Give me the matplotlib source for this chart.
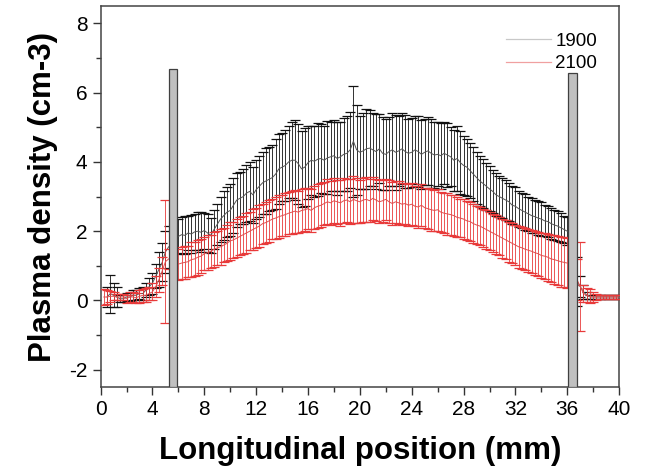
import numpy as np
import matplotlib
matplotlib.use("Agg")
import matplotlib.pyplot as plt
from matplotlib.ticker import MultipleLocator

plt.rcParams['font.family'] = ['Liberation Sans', 'DejaVu Sans']
plt.rcParams['axes.unicode_minus'] = False

# ---------------- data ----------------
series_labels = ["1900", "2100"]

# left region (before first electrode)
b_left_start = 0.5
b_left_mean = [0.10, 0.20, 0.15, 0.10, 0.05, 0.05, 0.10, 0.10, 0.15, 0.15,
               0.20, 0.20, 0.30, 0.40, 0.50, 0.70, 0.90, 1.10, 1.40, 1.55]
b_left_err = [0.30, 0.55, 0.35, 0.30, 0.10, 0.10, 0.12, 0.12, 0.15, 0.15,
              0.15, 0.20, 0.20, 0.25, 0.30, 0.35, 0.50, 0.55, 0.62, 0.60]
r_left_start = 0.25
r_left_mean = [0.10, 0.10, 0.12, 0.12, 0.10, 0.10, 0.10, 0.05, 0.10, 0.10,
               0.08, 0.12, 0.15, 0.15, 0.20, 0.25, 0.40, 0.60, 0.85, 1.12, 1.20]
r_left_err = [0.22, 0.20, 0.15, 0.12, 0.10, 0.10, 0.10, 0.12, 0.15, 0.15,
              0.15, 0.18, 0.18, 0.20, 0.20, 0.25, 0.30, 0.35, 0.40, 1.78, 0.30]

# main region (between electrodes)
main_start = 6.0
b_main_mean = [1.85, 1.90, 1.88, 1.95, 1.92, 1.98, 2.00, 1.97, 2.02, 1.95, 1.88, 2.05,
               2.20, 2.35, 2.45, 2.55, 2.60, 2.75, 2.90, 2.95, 3.00, 3.10, 3.15, 3.05,
               3.20, 3.30, 3.40, 3.45, 3.50, 3.55, 3.65, 3.80, 3.85, 3.90, 4.00, 4.05,
               4.05, 3.95, 3.80, 3.85, 3.98, 4.05, 4.02, 4.08, 4.10, 4.05, 4.12, 4.15,
               4.18, 4.10, 4.15, 4.22, 4.25, 4.35, 4.60, 4.35, 4.28, 4.32, 4.38, 4.40,
               4.35, 4.30, 4.38, 4.25, 4.22, 4.30, 4.35, 4.28, 4.32, 4.38, 4.30, 4.25,
               4.28, 4.35, 4.30, 4.22, 4.28, 4.32, 4.25, 4.20, 4.22, 4.18, 4.25, 4.20,
               4.15, 4.05, 4.10, 3.98, 3.90, 3.85, 3.75, 3.65, 3.55, 3.45, 3.38, 3.30,
               3.22, 3.15, 3.05, 3.00, 2.95, 2.90, 2.85, 2.75, 2.72, 2.65, 2.60, 2.55,
               2.50, 2.45, 2.42, 2.38, 2.35, 2.30, 2.28, 2.22, 2.18, 2.15, 2.10, 2.05,
               2.00]
b_main_err = [0.50, 0.52, 0.55, 0.50, 0.55, 0.52, 0.55, 0.58, 0.52, 0.55, 0.50, 0.55,
              0.60, 0.65, 0.70, 0.72, 0.75, 0.80, 0.78, 0.75, 0.80, 0.82, 0.85, 0.80,
              0.85, 0.88, 0.90, 0.95, 0.92, 0.95, 1.00, 1.00, 0.98, 1.02, 1.05, 1.10,
              1.15, 1.15, 1.10, 1.12, 1.05, 1.00, 1.02, 1.05, 1.00, 0.98, 1.05, 1.00,
              1.02, 1.05, 1.00, 1.05, 1.08, 1.10, 1.60, 1.30, 1.05, 1.10, 1.15, 1.10,
              1.05, 1.08, 1.00, 1.05, 1.02, 1.00, 1.05, 1.08, 1.00, 1.02, 1.05, 1.00,
              1.00, 0.98, 1.02, 1.00, 0.95, 0.98, 1.00, 0.95, 0.92, 0.95, 0.90, 0.92,
              0.85, 0.88, 0.95, 0.90, 0.85, 0.82, 0.80, 0.78, 0.75, 0.72, 0.70, 0.68,
              0.65, 0.62, 0.62, 0.60, 0.58, 0.58, 0.55, 0.55, 0.55, 0.52, 0.50, 0.52,
              0.50, 0.50, 0.48, 0.48, 0.50, 0.45, 0.45, 0.45, 0.42, 0.42, 0.42, 0.40,
              0.40]
r_main_mean = [1.05, 1.08, 1.10, 1.12, 1.18, 1.20, 1.25, 1.28, 1.35, 1.38, 1.42, 1.48,
               1.52, 1.55, 1.60, 1.65, 1.72, 1.75, 1.80, 1.85, 1.90, 1.95, 2.00, 2.05,
               2.10, 2.15, 2.22, 2.25, 2.30, 2.35, 2.38, 2.42, 2.45, 2.48, 2.52, 2.55,
               2.58, 2.55, 2.60, 2.62, 2.65, 2.60, 2.68, 2.72, 2.75, 2.80, 2.85, 2.82,
               2.88, 2.85, 2.82, 2.88, 2.90, 2.85, 2.92, 2.88, 2.85, 2.90, 2.92, 2.88,
               2.95, 2.90, 2.85, 2.88, 2.92, 2.85, 2.80, 2.85, 2.82, 2.78, 2.80, 2.75,
               2.78, 2.72, 2.70, 2.75, 2.68, 2.65, 2.62, 2.60, 2.62, 2.55, 2.52, 2.50,
               2.48, 2.45, 2.40, 2.38, 2.35, 2.30, 2.28, 2.22, 2.18, 2.15, 2.10, 2.05,
               2.00, 1.95, 1.90, 1.85, 1.80, 1.75, 1.70, 1.65, 1.60, 1.55, 1.52, 1.48,
               1.45, 1.42, 1.38, 1.35, 1.30, 1.28, 1.25, 1.20, 1.18, 1.15, 1.12, 1.10,
               1.08]
r_main_err = [0.45, 0.45, 0.48, 0.45, 0.50, 0.48, 0.50, 0.50, 0.48, 0.50, 0.48, 0.50,
              0.50, 0.52, 0.50, 0.52, 0.55, 0.52, 0.55, 0.55, 0.55, 0.58, 0.55, 0.58,
              0.58, 0.60, 0.58, 0.60, 0.60, 0.58, 0.60, 0.62, 0.60, 0.62, 0.60, 0.62,
              0.62, 0.60, 0.62, 0.62, 0.60, 0.62, 0.62, 0.64, 0.64, 0.62, 0.65, 0.64,
              0.65, 0.64, 0.66, 0.65, 0.62, 0.65, 0.68, 0.65, 0.62, 0.64, 0.65, 0.62,
              0.62, 0.60, 0.62, 0.60, 0.60, 0.62, 0.62, 0.60, 0.62, 0.60, 0.58, 0.60,
              0.60, 0.58, 0.60, 0.60, 0.58, 0.60, 0.60, 0.58, 0.60, 0.58, 0.58, 0.60,
              0.58, 0.60, 0.58, 0.56, 0.58, 0.56, 0.55, 0.56, 0.55, 0.54, 0.55, 0.55,
              0.55, 0.54, 0.56, 0.55, 0.56, 0.56, 0.58, 0.58, 0.58, 0.60, 0.60, 0.60,
              0.62, 0.62, 0.64, 0.64, 0.66, 0.66, 0.68, 0.68, 0.70, 0.70, 0.72, 0.72,
              0.72]

# right region (after second electrode)
right_start = 36.75
b_right_mean = [0.55, 0.40, 0.25, 0.15, 0.10, 0.10, 0.10, 0.10, 0.10, 0.10, 0.10, 0.10, 0.10, 0.10]
b_right_err = [0.70, 0.30, 0.20, 0.10, 0.06, 0.05, 0.05, 0.05, 0.05, 0.05, 0.05, 0.05, 0.05, 0.06]
r_right_mean = [0.60, 0.40, 0.20, 0.15, 0.12, 0.10, 0.10, 0.10, 0.10, 0.10, 0.10, 0.10, 0.10, 0.10]
r_right_err = [0.60, 1.28, 0.25, 0.20, 0.20, 0.15, 0.10, 0.05, 0.05, 0.05, 0.05, 0.05, 0.05, 0.05]

step = 0.25

# electrodes (grey bars)
electrode_centers = [5.59, 36.43]
electrode_widths = [0.64, 0.70]
electrode_tops = [6.69, 6.56]

# ---------------- plot ----------------
fig = plt.figure(figsize=(6.49, 4.72), dpi=100)
ax = fig.add_axes([0.155, 0.180, 0.799, 0.807])

ymin, ymax = -2.5, 8.5

def xs(start, arr):
    return start + step * np.arange(len(arr))

styles = [
    dict(ecolor="#111111", capcolor="#111111", line="#555555", legend_line="#c8c8c8"),
    dict(ecolor="#e83a3a", capcolor="#e00000", line="#e05050", legend_line="#f0a0a0"),
]
groups = [
    [(b_left_start, b_left_mean, b_left_err), (main_start, b_main_mean, b_main_err),
     (right_start, b_right_mean, b_right_err)],
    [(r_left_start, r_left_mean, r_left_err), (main_start, r_main_mean, r_main_err),
     (right_start, r_right_mean, r_right_err)],
]

for k, (st, grp) in enumerate(zip(styles, groups)):
    for start, m, e in grp:
        x = xs(start, m)
        _, caps, bars = ax.errorbar(x, m, yerr=e, fmt='none', ecolor=st["ecolor"],
                                    elinewidth=0.6, capsize=3.4, capthick=0.9,
                                    zorder=2 + k)
        for c in caps:
            c.set_color(st["capcolor"])
        ax.plot(x, m, color=st["line"], lw=0.7, zorder=2.5 + k)
    ax.plot([], [], color=st["legend_line"], lw=0.9, label=series_labels[k])

heights = [t - ymin for t in electrode_tops]
ax.bar(electrode_centers, heights, width=electrode_widths, bottom=ymin,
       color="#c0c0c0", edgecolor="#404040", linewidth=0.9, zorder=5)

ax.set_xlim(0, 40)
ax.set_ylim(ymin, ymax)
ax.xaxis.set_major_locator(MultipleLocator(4))
ax.xaxis.set_minor_locator(MultipleLocator(2))
ax.yaxis.set_major_locator(MultipleLocator(2))
ax.yaxis.set_minor_locator(MultipleLocator(1))
ax.tick_params(which='both', direction='out', top=False, right=False,
               colors='#333333', labelcolor='black')
ax.tick_params(which='major', length=6, width=1.0, labelsize=15)
ax.tick_params(which='minor', length=3.5, width=1.0)
for sp in ax.spines.values():
    sp.set_color('#444444')
    sp.set_linewidth(1.1)

ax.set_xlabel("Longitudinal position (mm)", fontsize=22.5, fontweight='bold', labelpad=12)
ax.set_ylabel("Plasma density (cm-3)", fontsize=22.5, fontweight='bold', labelpad=8)

leg = ax.legend(loc='upper right', bbox_to_anchor=(0.99, 0.975), frameon=False,
                fontsize=13.5, handlelength=2.4, handletextpad=0.25, labelspacing=0.3)

fig.savefig("out.png", dpi=100)
